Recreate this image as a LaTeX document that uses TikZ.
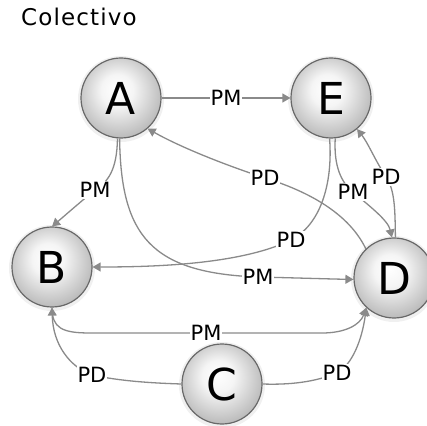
\documentclass[tikz,border=0pt]{standalone}
\usepackage{fontspec}
\setmainfont{DejaVu Sans}
\usetikzlibrary{arrows.meta}
\definecolor{linegray}{HTML}{8A8A8A}
\definecolor{rimgray}{HTML}{686868}
\pgfdeclareradialshading{sphere}{\pgfpoint{-3bp}{6bp}}{color(0bp)=(white); color(10bp)=(white!96!black); color(30bp)=(white!70!black); color(44bp)=(white!54!black); color(50bp)=(white!45!black)}
\tikzset{
  ball/.style={circle, minimum size=80pt, inner sep=0pt, shading=sphere, draw=rimgray, line width=1.2pt, font=\fontsize{44}{48}\selectfont},
  halo/.style={circle, minimum size=86pt, inner sep=0pt, fill=black, opacity=0.06},
  edge/.style={draw=linegray, line width=1.3pt, -{Triangle[length=8pt,width=9pt]}},
  lbl/.style={fill=white, inner sep=1pt, text=black, font=\fontsize{21}{24}\selectfont},
}
\begin{document}
\begin{tikzpicture}[x=1pt,y=1pt]
\useasboundingbox (0,0) rectangle (427,425);
\node[anchor=base west, inner sep=0pt, font=\fontsize{23}{27}\selectfont\addfontfeature{LetterSpace=5}] (title) at (21,399) {Colectivo};
% halos
\node[halo] (hA) at (121,326) {};
\node[halo] (hE) at (331,326) {};
\node[halo] (hB) at (52,157) {};
\node[halo] (hD) at (394,146) {};
\node[halo] (hC) at (222,40) {};
% nodes
\node[ball] (A) at (121,327) {A};
\node[ball] (E) at (331,327) {E};
\node[ball] (B) at (52,158) {B};
\node[ball] (D) at (394,147) {D};
\node[ball] (C) at (222,41) {C};
% edges
\draw[edge] (A.east) -- node[lbl]{PM} (E.west);
\draw[edge] (A.265) .. controls (117,255) and (108,243) .. (95,235) node[lbl]{PM} .. controls (85,227) and (62,207) .. (B.north);
\draw[edge] (A.268) .. controls (121,190) and (150,152) .. (258,148) node[lbl]{PM} .. controls (300,147) and (330,146) .. (D.182);
\draw[edge] (E.268) .. controls (333,240) and (320,200) .. (291,185) node[lbl]{PD} .. controls (240,160) and (150,158) .. (B.east);
\draw[edge] (D.134) .. controls (352,205) and (320,230) .. (265,247) node[lbl]{PD} .. controls (225,260) and (180,278) .. (A.311);
\draw[edge] (E.276) .. controls (334,265) and (338,245) .. (353,233) node[lbl]{PM} .. controls (368,220) and (388,205) .. (D.93);
\draw[edge] (D.88) .. controls (395,215) and (395,235) .. (386,248) node[lbl]{PD} .. controls (375,265) and (368,282) .. (E.310);
\draw[edge] (B.south) .. controls (52,97) and (62,92) .. (90,92) -- node[lbl]{PM} (322,92) .. controls (345,92) and (360,100) .. (D.227);
\draw[edge] (C.west) .. controls (150,42) and (120,44) .. (92,50) node[lbl]{PD} .. controls (70,58) and (53,80) .. (B.south);
\draw[edge] (C.east) .. controls (290,40) and (315,43) .. (337,52) node[lbl]{PD} .. controls (352,60) and (362,85) .. (D.227);
\end{tikzpicture}
\end{document}
